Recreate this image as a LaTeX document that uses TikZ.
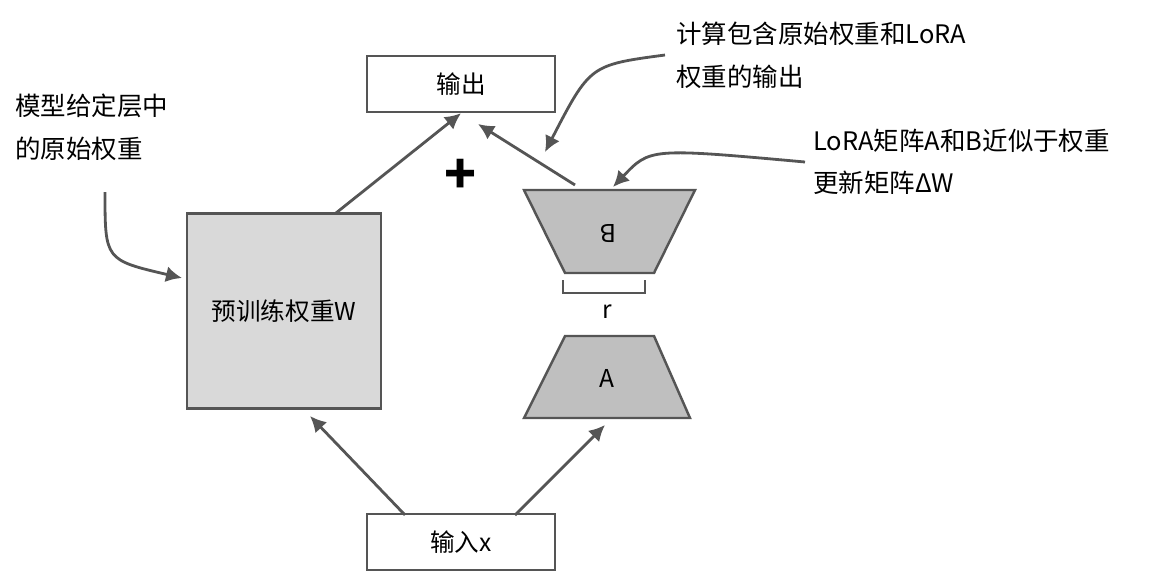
\documentclass[tikz,border=0pt]{standalone}
\usepackage{fontspec}
\setmainfont{Noto Sans CJK SC}
\usetikzlibrary{positioning,arrows.meta}
\definecolor{edge}{HTML}{555555}
\tikzset{>={Latex[width=3.2mm,length=3.2mm]}}
\tikzset{
  box/.style={draw=edge,line width=1.4pt,minimum width=3.76cm,minimum height=1.12cm,font=\fontsize{14}{16}\selectfont},
  conn/.style={->,draw=edge,line width=1.6pt},
  note/.style={align=left,anchor=north west,font=\fontsize{14.5}{24}\selectfont,inner sep=0pt},
  trap/.style={draw=edge,line width=1.4pt,fill=black!25}
}
\begin{document}
\begin{tikzpicture}[x=0.02cm,y=-0.02cm]
	\useasboundingbox (0,0) rectangle (1160,582);
	\node(out) [box] at (461,84) {输出};
	\node(in) [box] at (461,542) {输入x};
	\node(W) [box,fill=black!15,minimum width=3.88cm,minimum height=3.9cm] at (284,311) {预训练权重W};
	
	% LoRA trapezoids
	\draw[trap] (524,190) -- (695,190) -- (654,273) -- (565,273) -- cycle;
	\node(B) [rotate=180,font=\fontsize{14}{16}\selectfont] at (608,234) {B};
	\draw[trap] (565,336) -- (654,336) -- (690,418) -- (524,418) -- cycle;
	\node(A) [font=\fontsize{14}{16}\selectfont] at (607,378) {A};
	\draw[edge,line width=1.4pt] (563,280) -- (563,293) -- (645,293) -- (645,280);
	\node(r) [font=\fontsize{14}{16}\selectfont] at (607,312) {r};
	\node(plus) [font=\fontsize{30}{30}\bfseries] at (461,176) {+};
	
	\coordinate(Btop) at (575,185);
	\coordinate(Wtop) at (336,213);
	\coordinate(inL) at (405,515);
	\coordinate(inR) at (515,515);
	\coordinate(Wbot) at (310,416);
	\coordinate(Abot) at (605,425);
	\draw[conn] (Wtop) -- (out.south);
	\draw[conn] (Btop) -- (478,124);
	\draw[conn] (inL) -- (Wbot);
	\draw[conn] (inR) -- (Abot);
	
	% annotations
	\node(n1) [note] at (15,94) {模型给定层中\\的原始权重};
	\node(n2) [note] at (676,22) {计算包含原始权重和LoRA\\权重的输出};
	\node(n3) [note] at (813,129) {LoRA矩阵A和B近似于权重\\更新矩阵ΔW};
	\coordinate(c1) at (105,192);
	\coordinate(c2) at (665,55);
	\coordinate(c3) at (805,162);
	\draw[conn] (c1) .. controls (105,260) .. (182,278);
	\draw[conn] (c2) .. controls (590,65) .. (545,152);
	\draw[conn] (c3) .. controls (650,148) .. (613,187);
\end{tikzpicture}
\end{document}
